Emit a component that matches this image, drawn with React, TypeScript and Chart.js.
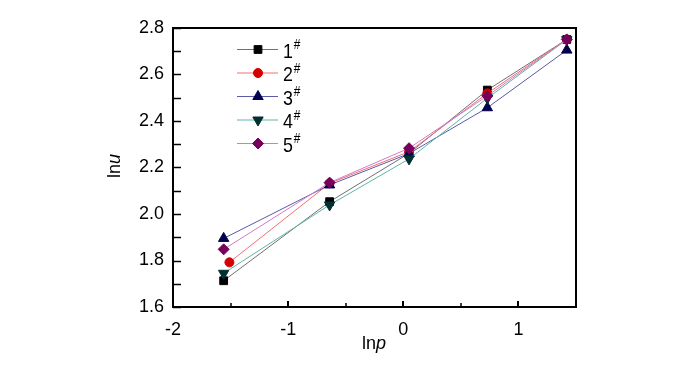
import React, { useEffect, useRef } from "react";
import { Chart, registerables } from "chart.js";

Chart.register(...registerables);

const seriesNames = ["1", "2", "3", "4", "5"];
const xValues = [
  [-1.56, -0.64, 0.05, 0.73, 1.42],
  [-1.51, -0.64, 0.05, 0.73, 1.42],
  [-1.56, -0.64, 0.05, 0.73, 1.42],
  [-1.56, -0.64, 0.05, 0.73, 1.42],
  [-1.56, -0.64, 0.05, 0.73, 1.42],
];
const s1 = [1.713, 2.053, 2.261, 2.533, 2.751];
const s2 = [1.792, 2.132, 2.268, 2.519, 2.751];
const s3 = [1.895, 2.125, 2.26, 2.457, 2.705];
const s4 = [1.745, 2.039, 2.237, 2.498, 2.75];
const s5 = [1.848, 2.135, 2.283, 2.508, 2.751];
const yValues = [s1, s2, s3, s4, s5];

const lineColors = ["#707070", "#f07070", "#5a5aa8", "#5fb5a6", "#d07cc8"];
const markerColors = ["#000000", "#d40000", "#00004f", "#003030", "#78005a"];
const pointStyles = ["rect", "circle", "triangle", "triangle", "rectRot"];
const pointRotations = [0, 0, 0, 180, 0];
const pointRadii = [5.5, 4.5, 6, 6, 5.5];

const X_MIN = -2, X_MAX = 1.5, Y_MIN = 1.6, Y_MAX = 2.8;
const FONT = "'Liberation Sans', Arial, sans-serif";

function drawMarker(ctx: CanvasRenderingContext2D, i: number, x: number, y: number) {
  const r = pointRadii[i];
  ctx.save();
  ctx.fillStyle = markerColors[i];
  ctx.strokeStyle = markerColors[i];
  ctx.lineWidth = 1;
  ctx.beginPath();
  const st = pointStyles[i];
  if (st === "rect") {
    const s = Math.SQRT1_2 * r;
    ctx.rect(x - s, y - s, 2 * s, 2 * s);
  } else if (st === "circle") {
    ctx.arc(x, y, r, 0, Math.PI * 2);
  } else if (st === "triangle") {
    const rot = (pointRotations[i] * Math.PI) / 180;
    for (let k = 0; k < 3; k++) {
      const a = rot - Math.PI / 2 + (k * 2 * Math.PI) / 3;
      const px = x + Math.cos(a) * r;
      const py = y + Math.sin(a) * r;
      if (k === 0) ctx.moveTo(px, py);
      else ctx.lineTo(px, py);
    }
  } else {
    ctx.moveTo(x, y - r);
    ctx.lineTo(x + r, y);
    ctx.lineTo(x, y + r);
    ctx.lineTo(x - r, y);
  }
  ctx.closePath();
  ctx.fill();
  ctx.stroke();
  ctx.restore();
}

export default function App() {
  const ref = useRef<HTMLCanvasElement | null>(null);
  useEffect(() => {
    document.body.style.margin = "0";
    const canvas = ref.current!;
    const datasets = seriesNames.map((n, i) => ({
      label: n,
      data: xValues[i].map((x, j) => ({ x, y: yValues[i][j] })),
      showLine: true,
      borderColor: lineColors[i],
      borderWidth: 1,
      backgroundColor: markerColors[i],
      pointBackgroundColor: markerColors[i],
      pointBorderColor: markerColors[i],
      pointBorderWidth: 1,
      pointStyle: pointStyles[i],
      rotation: pointRotations[i],
      pointRadius: pointRadii[i],
      order: 4 - i,
      tension: 0,
    }));

    const frame = {
      id: "frame",
      afterDraw(chart: any) {
        const ctx = chart.ctx as CanvasRenderingContext2D;
        const { left, right, top, bottom } = chart.chartArea;
        const xs = chart.scales.x;
        const ys = chart.scales.y;
        ctx.save();
        ctx.strokeStyle = "#000";
        ctx.lineWidth = 2;
        ctx.strokeRect(left, top, right - left, bottom - top);
        ctx.lineWidth = 1.5;
        for (let k = 0; k <= 12; k++) {
          const v = Y_MIN + k * 0.1;
          const py = Math.round(ys.getPixelForValue(v)) + 0.5;
          ctx.beginPath();
          ctx.moveTo(left, py);
          ctx.lineTo(left + 8, py);
          ctx.stroke();
        }
        for (let k = 0; k <= 7; k++) {
          const v = X_MIN + k * 0.5;
          const px = Math.round(xs.getPixelForValue(v));
          const major = k % 2 === 0;
          ctx.lineWidth = major ? 2 : 1.5;
          ctx.beginPath();
          ctx.moveTo(px, bottom);
          ctx.lineTo(px, bottom - (major ? 6 : 4));
          ctx.stroke();
        }
        // legend
        for (let i = 0; i < 5; i++) {
          const y = 49.5 + i * 23.5;
          ctx.strokeStyle = lineColors[i];
          ctx.lineWidth = 1;
          ctx.beginPath();
          ctx.moveTo(237, y);
          ctx.lineTo(278, y);
          ctx.stroke();
          drawMarker(ctx, i, 258, y);
          ctx.save();
          ctx.fillStyle = "#000";
          ctx.textBaseline = "alphabetic";
          ctx.textAlign = "left";
          ctx.translate(283, y + 8);
          ctx.scale(0.85, 1);
          ctx.font = `21px ${FONT}`;
          ctx.fillText(seriesNames[i], 0, 0);
          const w = ctx.measureText(seriesNames[i]).width;
          ctx.font = `14px ${FONT}`;
          ctx.fillText("#", w + 1, -8.5);
          ctx.restore();
        }
        // axis titles
        ctx.fillStyle = "#000";
        ctx.textBaseline = "alphabetic";
        ctx.textAlign = "left";
        ctx.font = `18px ${FONT}`;
        const lnW = ctx.measureText("ln").width;
        ctx.font = `italic 18px ${FONT}`;
        const pW = ctx.measureText("p").width;
        const uW = ctx.measureText("u").width;
        let sx = 374 - (lnW + pW) / 2;
        ctx.font = `18px ${FONT}`;
        ctx.fillText("ln", sx, 349);
        ctx.font = `italic 18px ${FONT}`;
        ctx.fillText("p", sx + lnW, 349);
        ctx.save();
        ctx.translate(120, 166);
        ctx.rotate(-Math.PI / 2);
        sx = -(lnW + uW) / 2;
        ctx.font = `18px ${FONT}`;
        ctx.fillText("ln", sx, 0);
        ctx.font = `italic 18px ${FONT}`;
        ctx.fillText("u", sx + lnW, 0);
        ctx.restore();
        ctx.restore();
      },
    };

    const chart = new Chart(canvas, {
      type: "scatter",
      data: { datasets: datasets as any },
      options: {
        responsive: false,
        animation: false,
        layout: { padding: { left: 0, right: 124, top: 28, bottom: 0 } },
        plugins: { legend: { display: false }, tooltip: { enabled: false } },
        scales: {
          x: {
            type: "linear",
            min: X_MIN,
            max: X_MAX,
            grid: { display: false, drawTicks: false },
            border: { display: false },
            ticks: {
              stepSize: 0.5,
              padding: 12,
              color: "#000",
              font: { family: FONT, size: 18 },
              callback: (v: any) => (Math.abs(v - Math.round(v)) < 1e-6 ? String(Math.round(v)) : ""),
            },
            afterFit: (s: any) => { s.height = 58; },
          },
          y: {
            type: "linear",
            min: Y_MIN,
            max: Y_MAX,
            grid: { display: false, drawTicks: false },
            border: { display: false },
            ticks: {
              stepSize: 0.2,
              padding: 9,
              color: "#000",
              font: { family: FONT, size: 18 },
              callback: (v: any) => Number(v).toFixed(1),
            },
            afterFit: (s: any) => { s.width = 173; },
          },
        },
      },
      plugins: [frame],
    });
    return () => chart.destroy();
  }, []);
  return (
    <div style={{ position: "absolute", left: 0, top: 0 }}>
      <canvas ref={ref} width={700} height={365} />
    </div>
  );
}
